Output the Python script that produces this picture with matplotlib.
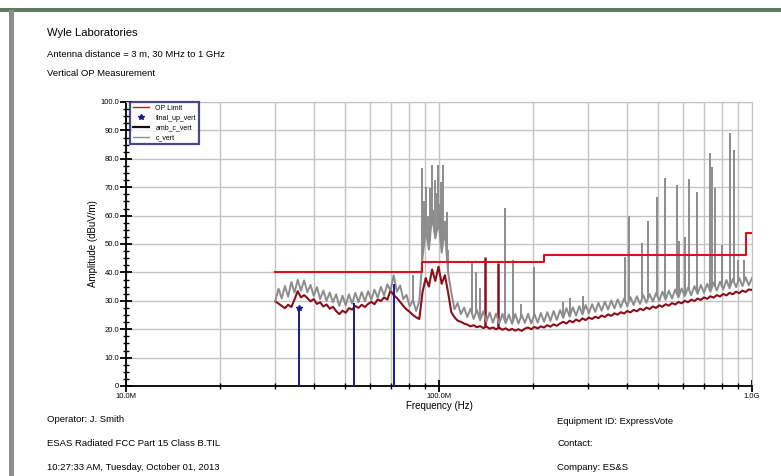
import matplotlib
matplotlib.use("Agg")
import matplotlib.pyplot as plt
import numpy as np
from matplotlib.lines import Line2D
from matplotlib.patches import Rectangle
from matplotlib.ticker import FixedLocator, FixedFormatter, MultipleLocator

plt.rcParams["font.family"] = ["Liberation Sans", "DejaVu Sans"]

# OP limit (MHz edges, dBuV/m)
limit_mhz = [30, 88, 88, 216, 216, 960, 960, 1000]
limit_db = [40.0, 40.0, 43.5, 43.5, 46.0, 46.0, 54.0, 54.0]

# swept noise floor, 150 points log-spaced from 30 MHz to 1 GHz
c_vert_db = [
    30.0, 34.3, 30.8, 35.2, 31.4, 36.6, 32.9, 37.4, 33.6, 37.2,
    33.0, 35.6, 31.7, 34.8, 30.6, 33.6, 30.0, 32.9, 29.5, 32.3,
    28.2, 31.8, 28.4, 32.3, 29.0, 32.8, 29.5, 33.1, 29.8, 33.4,
    30.4, 33.9, 31.1, 34.9, 31.9, 35.8, 33.6, 39.0, 33.2, 35.4,
    30.6, 32.1, 28.0, 30.3, 26.4, 29.9, 45.0, 55.0, 48.0, 60.0,
    52.0, 58.0, 47.0, 55.0, 40.0, 33.0, 27.0, 29.2, 25.3, 27.6,
    24.3, 27.2, 23.6, 26.8, 23.1, 26.3, 22.7, 25.9, 22.3, 25.5,
    22.0, 25.4, 22.1, 25.2, 21.9, 25.3, 22.0, 25.1, 22.2, 25.4,
    22.0, 25.3, 22.3, 25.7, 22.6, 26.0, 22.9, 26.4, 23.3, 26.7,
    24.0, 27.4, 24.4, 27.7, 24.8, 28.1, 25.2, 28.5, 25.6, 28.8,
    26.1, 29.3, 26.5, 29.7, 26.9, 30.1, 27.3, 30.5, 27.7, 30.8,
    28.1, 31.3, 28.5, 31.6, 28.9, 32.0, 29.3, 32.4, 29.7, 32.7,
    30.0, 33.2, 30.4, 33.6, 30.8, 34.0, 31.2, 34.3, 31.6, 34.7,
    32.0, 35.2, 32.4, 35.6, 32.8, 36.0, 33.2, 36.4, 33.6, 36.7,
    34.0, 37.3, 34.4, 37.7, 34.8, 38.0, 35.2, 38.3, 35.5, 38.0,
]
amb_c_vert_db = [
    29.8, 29.0, 28.2, 27.4, 28.6, 27.8, 30.5, 33.4, 31.2, 32.0,
    31.0, 29.8, 30.6, 28.9, 29.5, 28.0, 28.7, 27.2, 27.9, 26.4,
    25.3, 26.5, 25.8, 27.4, 26.9, 28.2, 27.5, 28.6, 27.8, 28.9,
    29.6, 28.8, 30.5, 29.9, 31.2, 30.4, 33.6, 32.0, 31.0, 29.6,
    28.2, 27.0, 26.1, 25.0, 24.2, 23.6, 33.0, 38.0, 35.0, 41.0,
    37.0, 42.0, 36.0, 39.0, 33.0, 26.0, 24.2, 23.0, 22.6, 22.0,
    21.6, 21.0, 21.4, 20.7, 21.1, 20.4, 20.9, 20.2, 20.6, 20.0,
    20.5, 19.8, 20.3, 19.6, 20.1, 19.5, 20.0, 19.4, 20.2, 20.6,
    20.0, 20.8, 20.3, 21.0, 20.6, 21.4, 20.9, 21.7, 21.2, 22.0,
    22.6, 22.0, 23.0, 22.4, 23.4, 22.8, 23.8, 23.2, 24.1, 23.6,
    24.4, 23.9, 24.8, 24.3, 25.2, 24.7, 25.6, 25.1, 26.0, 25.5,
    26.4, 25.9, 26.8, 26.3, 27.2, 26.7, 27.6, 27.1, 28.0, 27.5,
    28.4, 27.9, 28.8, 28.3, 29.2, 28.7, 29.6, 29.1, 30.0, 29.5,
    30.4, 29.9, 30.8, 30.3, 31.2, 30.7, 31.6, 31.1, 32.0, 31.5,
    32.4, 31.9, 32.8, 32.3, 33.2, 32.7, 33.6, 33.1, 34.0, 33.8,
]

# narrowband emissions on c_vert (MHz, peak dBuV/m)
spike_mhz = [82.6, 88.5, 89.5, 90.7, 92.0, 93.4, 94.3, 95.2, 96.0, 97.1,
             98.3, 99.5, 100.5, 101.5, 102.3, 103.2, 104.5, 105.2, 106.3, 107.0,
             127.4, 131.2, 135.1, 162.3, 172.1, 182.4, 200.7, 248.3, 261.3, 287.4,
             394.0, 405.7, 446.4, 466.4, 498.3, 528.4, 576.9, 585.5, 611.8, 630.1,
             668.1, 734.9, 745.8, 762.4, 802.6, 851.1, 876.6, 902.7, 943.2]
spike_db = [39.0, 76.8, 65.0, 70.0, 60.0, 69.7, 66.0, 77.8, 62.0, 72.5,
            68.0, 77.8, 64.0, 71.8, 66.0, 77.8, 58.0, 55.0, 61.3, 48.0,
            43.3, 40.0, 34.5, 62.7, 44.4, 29.0, 42.0, 29.6, 31.0, 31.7,
            45.4, 60.0, 50.4, 58.0, 66.6, 73.2, 70.8, 51.0, 52.5, 72.9,
            68.3, 82.0, 77.0, 69.7, 49.6, 89.0, 83.0, 44.4, 44.4]

# ambient spikes
amb_spike_mhz = [140.2, 154.1]
amb_spike_db = [45.4, 43.3]

# final measurements
final_mhz = [35.6, 53.6, 71.9]
final_db = [27.5, 29.2, 36.0]

y_ticks = [0, 10, 20, 30, 40, 50, 60, 70, 80, 90, 100]
y_labels = ["0", "10.0", "20.0", "30.0", "40.0", "50.0", "60.0", "70.0", "80.0", "90.0", "100.0"]

fig = plt.figure(figsize=(7.81, 4.76), dpi=100)
fig.patch.set_facecolor("white")

# page frame
fig.add_artist(Rectangle((0.0, 1 - 12 / 476), 1.0, 4 / 476, transform=fig.transFigure,
                         facecolor="#5f7d66", edgecolor="none"))
fig.add_artist(Rectangle((9 / 781, 0.0), 5 / 781, 1 - 10 / 476, transform=fig.transFigure,
                         facecolor="#8c8c8c", edgecolor="none"))

ax = fig.add_axes([126 / 781, 1 - 386 / 476, 626 / 781, 284 / 476])

sweep_hz = np.geomspace(30e6, 1e9, len(c_vert_db))
sweep_amb_hz = np.geomspace(30e6, 1e9, len(amb_c_vert_db))
c_floor = np.interp(np.log10(np.array(spike_mhz) * 1e6), np.log10(sweep_hz), c_vert_db)
a_floor = np.interp(np.log10(np.array(amb_spike_mhz) * 1e6), np.log10(sweep_amb_hz), amb_c_vert_db)

ax.plot(sweep_amb_hz, amb_c_vert_db, color="#8b0f1a", lw=1.5, zorder=3)
ax.vlines(np.array(amb_spike_mhz) * 1e6, a_floor, amb_spike_db, color="#8b0f1a", lw=1.8, zorder=3)
ax.plot(sweep_hz, c_vert_db, color="#8c8c8c", lw=1.4, zorder=4)
ax.vlines(np.array(spike_mhz) * 1e6, c_floor, spike_db, color="#8c8c8c", lw=1.4, zorder=4)
ax.plot(np.array(limit_mhz) * 1e6, limit_db, color="#d4141c", lw=1.5, zorder=5)
ax.vlines(np.array(final_mhz) * 1e6, 0, final_db, color="#1a1a8c", lw=1.4, zorder=6)
ax.plot(np.array(final_mhz[:1]) * 1e6, final_db[:1], ls="none", marker="*", ms=4,
        color="#1a1a8c", zorder=7)

ax.set_xscale("log")
ax.set_xlim(1e7, 1e9)
ax.set_ylim(0, 100)

major_x = [1e7, 1e8, 1e9]
minor_x = [m * d for d in (1e7, 1e8) for m in range(2, 10)]
ax.xaxis.set_major_locator(FixedLocator(major_x))
ax.xaxis.set_major_formatter(FixedFormatter(["10.0M", "100.0M", "1.0G"]))
ax.xaxis.set_minor_locator(FixedLocator(minor_x))
ax.xaxis.set_minor_formatter(FixedFormatter([""] * len(minor_x)))
ax.yaxis.set_major_locator(FixedLocator(y_ticks))
ax.yaxis.set_major_formatter(FixedFormatter(y_labels))
ax.yaxis.set_minor_locator(MultipleLocator(2.5))

ax.grid(True, which="major", axis="y", color="#c4c4c4", lw=1.0)
ax.grid(True, which="both", axis="x", color="#c4c4c4", lw=1.0)
ax.set_axisbelow(True)

for side in ("top", "right"):
    ax.spines[side].set_color("#c4c4c4")
for side in ("left", "bottom"):
    ax.spines[side].set_linewidth(1.3)
ax.tick_params(which="major", direction="inout", length=8, width=1.3, labelsize=5.5, pad=1)
ax.tick_params(which="minor", direction="inout", length=5, width=1.0)

ax.set_xlabel("Frequency (Hz)", fontsize=7, labelpad=1)
ax.set_ylabel("Amplitude (dBuV/m)", fontsize=7, labelpad=2)

handles = [Line2D([], [], color="#d4141c", lw=1.0),
           Line2D([], [], ls="none", marker="*", ms=4, color="#1a1a8c"),
           Line2D([], [], color="#111111", lw=1.6),
           Line2D([], [], color="#8c8c8c", lw=1.0)]
leg = ax.legend(handles, ["OP Limit", "final_up_vert", "amb_c_vert", "c_vert"],
                loc="upper left", bbox_to_anchor=(0.006, 1.0), fontsize=5,
                frameon=True, fancybox=False, borderpad=0.4, labelspacing=0.4,
                handlelength=2.4, handletextpad=0.9, borderaxespad=0)
leg.get_frame().set_edgecolor("#1a1a6e")
leg.get_frame().set_linewidth(1.6)
leg.set_zorder(10)

fig.text(47 / 781, 1 - 33 / 476, "Wyle Laboratories", fontsize=8.1, va="center", ha="left")
fig.text(47 / 781, 1 - 54 / 476, "Antenna distance = 3 m, 30 MHz to 1 GHz", fontsize=6.8,
         va="center", ha="left")
fig.text(47 / 781, 1 - 74 / 476, "Vertical OP Measurement", fontsize=6.8, va="center", ha="left")

fig.text(47 / 781, 1 - 420 / 476, "Operator: J. Smith", fontsize=6.8, va="center", ha="left")
fig.text(47 / 781, 1 - 444 / 476, "ESAS Radiated FCC Part 15 Class B.TIL", fontsize=6.8,
         va="center", ha="left")
fig.text(47 / 781, 1 - 467 / 476, "10:27:33 AM, Tuesday, October 01, 2013", fontsize=6.8,
         va="center", ha="left")
fig.text(557 / 781, 1 - 421 / 476, "Equipment ID: ExpressVote", fontsize=6.8, va="center", ha="left")
fig.text(557 / 781, 1 - 444 / 476, "Contact:", fontsize=6.8, va="center", ha="left")
fig.text(557 / 781, 1 - 467 / 476, "Company: ES&S", fontsize=6.8, va="center", ha="left")

fig.savefig("out.png", dpi=100)
